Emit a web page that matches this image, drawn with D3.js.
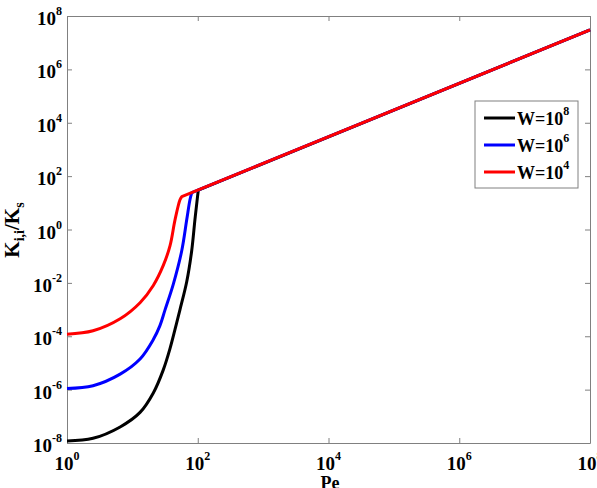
<!DOCTYPE html>
<html>
<head>
<meta charset="utf-8">
<script src="https://cdn.jsdelivr.net/npm/d3@7"></script>
<style>
  body { margin: 0; background: #fff; }
  svg text { font-family: "Liberation Serif", "Times New Roman", serif; font-weight: bold; fill: #000; }
</style>
</head>
<body>
<svg id="chart" width="597" height="488"></svg>
<script>
// values (Pe, K_ii/K_s)
const peBlack = [1, 2.5, 6.5, 13.1, 20.9, 29.7, 37.7, 44.9, 53.5, 67.8, 80.8, 90.5, 98.6, 102];
const kBlack  = [1.2e-8, 1.5e-8, 4.0e-8, 1.4e-7, 7.5e-7, 5.5e-6, 3.5e-5, 1.8e-4, 1.0e-3, 1.1e-2, 1.6e-1, 2.3, 15, 30];

const peBlue = [1, 2.5, 6.5, 13.1, 20.9, 26.4, 31.5, 42.3, 56.9, 67.8, 76, 81];
const kBlue  = [1.1e-6, 1.4e-6, 3.8e-6, 1.4e-5, 7.5e-5, 2.5e-4, 9.5e-4, 9.0e-3, 1.6e-1, 2.3, 13, 24];

const peRed = [1, 2.5, 6.5, 13.1, 20.9, 29.7, 37.7, 44.9, 53.5, 57];
const kRed  = [1.2e-4, 1.6e-4, 4.5e-4, 1.8e-3, 8.0e-3, 4.5e-2, 2.5e-1, 2.3, 13, 17];

// shared straight branch, end point at right edge
const lineEndPe = 1e8;
const lineEndK = 3e7;

const seriesNames = ["W=10^8", "W=10^6", "W=10^4"];
const xTicks = [1, 1e2, 1e4, 1e6, 1e8];
const yTicks = [1e-8, 1e-6, 1e-4, 1e-2, 1, 1e2, 1e4, 1e6, 1e8];

const svg = d3.select("#chart");
const plotLeft = 67, plotRight = 590, plotTop = 16, plotBottom = 443;

const x = d3.scaleLog().domain([1, 1e8]).range([plotLeft, plotRight]);
const y = d3.scaleLog().domain([1e-8, 1e8]).range([plotBottom, plotTop]);

const axisColor = "#808080";

// frame + inward ticks on all four sides
const styleAxis = g => {
    g.selectAll("path").attr("stroke", axisColor);
    g.selectAll("line").attr("stroke", axisColor);
    g.selectAll("text").remove();
};
svg.append("g").attr("transform", `translate(0,${plotBottom})`)
    .call(d3.axisBottom(x).tickValues(xTicks).tickSizeInner(-5).tickSizeOuter(0)).call(styleAxis);
svg.append("g").attr("transform", `translate(0,${plotTop})`)
    .call(d3.axisTop(x).tickValues(xTicks).tickSizeInner(-5).tickSizeOuter(0)).call(styleAxis);
svg.append("g").attr("transform", `translate(${plotLeft},0)`)
    .call(d3.axisLeft(y).tickValues(yTicks).tickSizeInner(-5).tickSizeOuter(0)).call(styleAxis);
svg.append("g").attr("transform", `translate(${plotRight},0)`)
    .call(d3.axisRight(y).tickValues(yTicks).tickSizeInner(-5).tickSizeOuter(0)).call(styleAxis);

const expOf = d => Math.round(Math.log10(d));

// x tick labels
const xl = svg.append("g").selectAll("text")
    .data(xTicks).enter().append("text")
    .attr("x", d => x(d))
    .attr("y", 470)
    .attr("text-anchor", "middle")
    .attr("font-size", 19);
xl.append("tspan").text("10");
xl.append("tspan").attr("dy", -10).attr("font-size", 12).text(d => expOf(d));

// y tick labels
const yl = svg.append("g").selectAll("text")
    .data(yTicks).enter().append("text")
    .attr("x", 62)
    .attr("y", d => y(d) + 9)
    .attr("text-anchor", "end")
    .attr("font-size", 19);
yl.append("tspan").text("10");
yl.append("tspan").attr("dy", -10).attr("font-size", 12).text(d => expOf(d));

// axis titles
svg.append("text")
    .attr("x", 330).attr("y", 489)
    .attr("text-anchor", "middle")
    .attr("font-size", 18)
    .text("Pe");

const yt = svg.append("text")
    .attr("transform", "translate(19,230) rotate(-90)")
    .attr("text-anchor", "middle")
    .attr("font-size", 21);
yt.append("tspan").text("K");
yt.append("tspan").attr("dy", 5).attr("font-size", 14).text("i,i");
yt.append("tspan").attr("dy", -5).text("/K");
yt.append("tspan").attr("dy", 5).attr("font-size", 14).text("s");

// curves
const curveLine = d3.line()
    .x(d => x(d[0]))
    .y(d => y(d[1]))
    .curve(d3.curveCatmullRom.alpha(0.5));

const series = [
    { pe: peBlack, k: kBlack, color: "#000000" },
    { pe: peBlue, k: kBlue, color: "#0000ff" },
    { pe: peRed, k: kRed, color: "#ff0000" }
];

svg.append("g").selectAll(".curve")
    .data(series)
    .enter()
    .append("path")
    .attr("class", "curve")
    .attr("d", s => curveLine(s.pe.map((p, i) => [p, s.k[i]])) + `L${x(lineEndPe)},${y(lineEndK)}`)
    .attr("fill", "none")
    .attr("stroke", s => s.color)
    .attr("stroke-width", 3)
    .attr("stroke-linejoin", "round");

// legend
const legend = svg.append("g").attr("transform", "translate(475,101)");
legend.append("rect")
    .attr("width", 103).attr("height", 87)
    .attr("fill", "#fff")
    .attr("stroke", axisColor);

const entries = legend.selectAll(".entry")
    .data(series)
    .enter()
    .append("g")
    .attr("class", "entry")
    .attr("transform", (d, i) => `translate(0,${17 + i * 27})`);
entries.append("line")
    .attr("x1", 9).attr("x2", 40)
    .attr("stroke", d => d.color)
    .attr("stroke-width", 3);
const lt = entries.append("text")
    .attr("x", 42).attr("y", 7)
    .attr("font-size", 18);
lt.append("tspan").text((d, i) => seriesNames[i].split("^")[0]);
lt.append("tspan").attr("dy", -10).attr("font-size", 12).text((d, i) => seriesNames[i].split("^")[1]);
</script>
</body>
</html>
